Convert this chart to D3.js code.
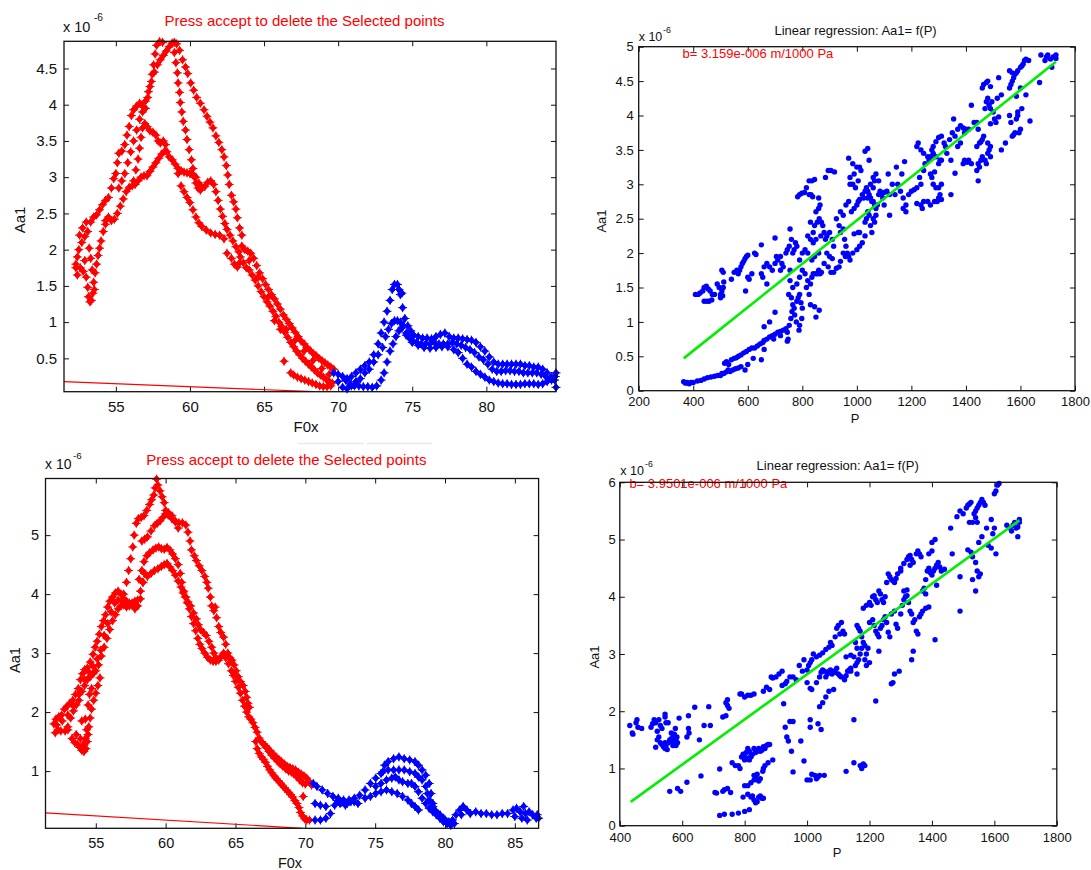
<!DOCTYPE html>
<html>
<head>
<meta charset="utf-8">
<script src="https://cdn.jsdelivr.net/npm/d3@7/dist/d3.min.js"></script>
<style>
  html, body { margin: 0; padding: 0; background: #fff; }
  svg { display: block; }
</style>
</head>
<body>
<script>
// ---------------------------------------------------------------
// Data. Left plots: F0x vs Aa1 (x 1e-6); right plots: P vs Aa1 (x 1e-6)
// ---------------------------------------------------------------

// Top-left: points still to be accepted (red strands) and kept (blue strands)
const topRiseOuter = [[52.3,1.75],[52.4,1.9],[52.5,2.0],[52.7,2.1],[52.9,2.18],[53.1,2.25],[53.3,2.38],[53.5,2.45],[53.7,2.48],[53.9,2.55],[54.1,2.62],[54.3,2.68],[54.5,2.72],[54.7,2.85],[54.85,2.98],[55.0,3.05],[55.1,3.2],[55.2,3.33],[55.4,3.36],[55.6,3.45],[55.75,3.58],[55.9,3.7],[56.05,3.85],[56.2,3.93],[56.4,3.98],[56.6,4.02],[56.8,3.98],[57.0,3.95],[57.15,4.1],[57.3,4.25],[57.45,4.42],[57.55,4.55],[57.65,4.7],[57.75,4.82],[57.95,4.87],[58.15,4.86]];
const topRiseInner = [[55.2,2.85],[55.4,2.95],[55.6,3.05],[55.8,3.2],[56.0,3.35],[56.2,3.5],[56.4,3.65],[56.6,3.8],[56.8,3.9],[57.0,4.05],[57.2,4.18],[57.4,4.32],[57.6,4.45],[57.8,4.55],[58.0,4.62],[58.2,4.68],[58.4,4.74],[58.6,4.8],[58.8,4.85],[58.95,4.86]];
const topFallOuter = [[59.1,4.84],[59.3,4.75],[59.5,4.62],[59.7,4.52],[59.85,4.43],[60.05,4.3],[60.25,4.2],[60.45,4.1],[60.7,4.02],[60.95,3.93],[61.15,3.84],[61.35,3.76],[61.55,3.68],[61.75,3.57],[61.95,3.48],[62.15,3.38],[62.3,3.28],[62.45,3.16],[62.55,3.03],[62.65,2.9],[62.8,2.75],[62.95,2.66],[63.1,2.56],[63.2,2.44],[63.35,2.3],[63.5,2.2]];
const topFallInner = [[58.95,4.72],[59.05,4.58],[59.15,4.44],[59.2,4.3],[59.3,4.17],[59.35,4.03],[59.45,3.9],[59.55,3.77],[59.7,3.65],[59.8,3.52],[59.95,3.38],[60.1,3.24],[60.2,3.12],[60.3,3.0],[60.4,2.92],[60.55,2.85],[60.7,2.82]];
const topBump = [[56.2,2.95],[56.35,3.1],[56.5,3.25],[56.6,3.4],[56.7,3.55],[56.8,3.68],[56.95,3.74],[57.1,3.7],[57.3,3.64],[57.5,3.62],[57.7,3.58],[57.85,3.5],[58.0,3.47],[58.2,3.5],[58.35,3.45],[58.45,3.35],[58.6,3.28],[58.8,3.24],[59.0,3.18],[59.2,3.12],[59.4,3.09],[59.6,3.07],[59.8,3.06],[60.0,3.05],[60.2,3.04],[60.4,3.0],[60.6,2.92],[60.8,2.86],[61.0,2.87],[61.2,2.93],[61.4,2.95],[61.6,2.9],[61.75,2.8],[61.9,2.68],[62.05,2.56],[62.2,2.46],[62.35,2.36],[62.5,2.28],[62.7,2.2],[62.9,2.12],[63.1,2.04],[63.3,1.97]];
const topLowRise = [[54.3,2.4],[54.5,2.45],[54.7,2.4],[54.9,2.42],[55.1,2.5],[55.3,2.6],[55.5,2.7],[55.7,2.8],[55.9,2.86],[56.1,2.88],[56.3,2.9],[56.5,2.95],[56.7,3.0],[56.9,3.02],[57.1,3.02],[57.3,3.08],[57.5,3.14],[57.7,3.2],[57.9,3.26],[58.1,3.32],[58.3,3.36]];
const topLoop = [[59.2,3.05],[59.4,2.88],[59.6,2.8],[59.8,2.72],[60.0,2.65],[60.2,2.55],[60.4,2.45],[60.6,2.37],[60.8,2.32],[61.1,2.27],[61.4,2.23],[61.7,2.21],[62.0,2.2],[62.3,2.15],[62.5,1.95],[62.8,1.88],[63.0,1.8],[63.2,1.76],[63.35,1.82]];
const topLobe = [[52.3,1.8],[52.4,1.65],[52.6,1.75],[52.8,1.7],[52.9,1.85],[53.0,1.62],[53.1,1.48],[53.15,1.35],[53.25,1.28],[53.35,1.3],[53.45,1.4],[53.5,1.55],[53.6,1.68],[53.7,1.8],[53.8,1.92],[53.9,2.02],[54.0,2.12],[54.15,2.25],[54.3,2.35],[53.3,1.88],[53.4,1.72],[53.55,1.45],[53.2,2.02],[52.55,2.2],[52.75,2.3],[53.0,2.38]];
const topBandUpper = [[63.5,2.05],[63.7,2.0],[63.9,1.98],[64.1,1.95],[64.3,1.88],[64.5,1.78],[64.7,1.68],[64.9,1.6],[65.1,1.52],[65.3,1.45],[65.5,1.38],[65.7,1.32],[65.9,1.25],[66.1,1.18],[66.3,1.1],[66.5,1.04],[66.7,0.98],[66.9,0.92],[67.1,0.86],[67.3,0.8],[67.5,0.74],[67.7,0.7],[67.9,0.65],[68.1,0.61],[68.3,0.57],[68.5,0.54],[68.7,0.5],[68.9,0.47],[69.1,0.44],[69.3,0.41],[69.5,0.38],[69.7,0.35]];
const topBandMiddle = [[63.4,1.9],[63.6,1.82],[63.8,1.75],[64.0,1.72],[64.2,1.65],[64.4,1.58],[64.6,1.5],[64.8,1.42],[65.0,1.35],[65.2,1.28],[65.4,1.22],[65.6,1.15],[65.8,1.08],[66.0,1.0],[66.2,0.94],[66.4,0.86],[66.6,0.79],[66.8,0.72],[67.0,0.66],[67.2,0.6],[67.4,0.55],[67.6,0.5],[67.8,0.46],[68.0,0.42],[68.2,0.38],[68.4,0.34],[68.6,0.3],[68.8,0.27],[69.0,0.24],[69.2,0.21],[69.4,0.18],[69.6,0.16]];
const topBandLower = [[66.35,0.46],[66.8,0.3],[67.0,0.27],[67.25,0.24],[67.5,0.22],[67.75,0.2],[68.0,0.18],[68.25,0.16],[68.5,0.14],[68.75,0.12],[69.0,0.11],[69.25,0.11],[69.5,0.12],[64.0,1.85],[64.6,1.62],[65.3,1.35],[65.7,1.02],[66.1,0.9],[66.5,0.9],[67.1,0.75],[67.7,0.6],[68.3,0.47],[68.9,0.36],[69.4,0.28]];
const topBlueUpper = [[69.7,0.3],[70.0,0.28],[70.3,0.25],[70.6,0.22],[70.9,0.25],[71.2,0.3],[71.5,0.35],[71.8,0.4],[72.1,0.45],[72.4,0.55],[72.7,0.7],[72.9,0.85],[73.1,1.0],[73.3,1.15],[73.5,1.3],[73.65,1.45],[73.8,1.52],[74.0,1.52],[74.1,1.45],[74.2,1.38],[74.35,1.2],[74.5,1.05],[74.7,0.95],[74.9,0.88],[75.1,0.82],[75.4,0.8],[75.7,0.78],[76.0,0.78],[76.3,0.77],[76.6,0.8],[76.9,0.83],[77.2,0.85],[77.5,0.8],[77.8,0.78],[78.1,0.78],[78.4,0.77],[78.7,0.76],[79.0,0.75],[79.3,0.72],[79.6,0.66],[79.9,0.6],[80.2,0.52],[80.5,0.45],[80.8,0.42],[81.1,0.42],[81.4,0.42],[81.7,0.42],[82.0,0.42],[82.3,0.42],[82.6,0.4],[82.9,0.4],[83.2,0.38],[83.5,0.38],[83.8,0.35],[84.1,0.3],[84.4,0.25],[84.65,0.25],[74.3,1.4]];
const topBlueMiddle = [[70.0,0.18],[70.3,0.1],[70.6,0.08],[70.9,0.12],[71.2,0.18],[71.5,0.22],[71.8,0.3],[72.1,0.35],[72.4,0.45],[72.7,0.55],[73.0,0.65],[73.2,0.8],[73.4,0.9],[73.6,0.98],[73.8,1.02],[74.0,1.02],[74.2,1.0],[74.4,0.95],[74.6,0.85],[74.8,0.78],[75.0,0.75],[75.3,0.72],[75.6,0.7],[75.9,0.7],[76.2,0.7],[76.5,0.72],[76.8,0.7],[77.1,0.7],[77.4,0.7],[77.7,0.72],[78.0,0.7],[78.3,0.68],[78.6,0.65],[78.9,0.62],[79.2,0.58],[79.5,0.52],[79.8,0.48],[80.1,0.42],[80.4,0.35],[80.7,0.32],[81.0,0.32],[81.3,0.33],[81.6,0.33],[81.9,0.32],[82.2,0.32],[82.5,0.3],[82.8,0.3],[83.1,0.3],[83.4,0.3],[83.7,0.28],[84.0,0.25],[84.3,0.22],[84.6,0.2]];
const topBlueLower = [[70.5,0.2],[70.8,0.15],[71.1,0.12],[71.4,0.12],[71.7,0.11],[72.0,0.11],[72.3,0.1],[72.6,0.12],[72.9,0.2],[73.1,0.3],[73.3,0.45],[73.5,0.6],[73.7,0.7],[73.9,0.8],[74.1,0.88],[74.3,0.92],[74.6,0.82],[75.0,0.72],[75.4,0.68],[75.8,0.65],[76.2,0.64],[76.6,0.65],[77.0,0.66],[77.4,0.66],[77.8,0.62],[78.1,0.58],[78.4,0.5],[78.7,0.42],[79.0,0.38],[79.3,0.32],[79.6,0.28],[79.9,0.24],[80.2,0.2],[80.5,0.18],[80.8,0.16],[81.1,0.15],[81.4,0.15],[81.7,0.14],[82.0,0.14],[82.3,0.14],[82.6,0.15],[82.9,0.15],[83.2,0.15],[83.5,0.14],[83.8,0.15],[84.1,0.18],[84.4,0.2],[84.7,0.1],[84.7,0.3]];
const topRedLine = [[51.5,0.18],[68.4,0.04]];

// Bottom-left
const botRiseUpper = [[52.0,1.8],[52.15,1.88],[52.35,1.92],[52.55,1.95],[52.75,2.05],[52.95,2.1],[53.15,2.15],[53.35,2.2],[53.55,2.3],[53.75,2.4],[53.9,2.55],[54.05,2.65],[54.2,2.72],[54.4,2.75],[54.6,2.85],[54.8,2.98],[54.95,3.1],[55.1,3.2],[55.25,3.32],[55.4,3.45],[55.55,3.55],[55.7,3.65],[55.85,3.78],[56.0,3.88],[56.2,3.95],[56.4,4.02],[56.6,4.05],[56.8,4.0],[57.0,3.92],[57.2,3.88],[57.4,3.85],[57.6,3.85],[57.8,3.88],[58.0,3.9],[58.2,4.05],[58.35,4.2],[58.5,4.35]];
const botRiseLower = [[52.1,1.65],[52.3,1.7],[52.5,1.68],[52.8,1.68],[53.0,1.75],[53.2,1.9],[53.4,2.02],[53.6,2.12],[53.8,2.2],[54.0,2.35],[54.2,2.45],[54.4,2.55],[54.6,2.6],[54.8,2.65],[55.0,2.7],[55.2,2.8],[55.4,2.95],[55.6,3.1],[55.8,3.25],[56.0,3.4],[56.2,3.55],[56.4,3.65],[56.6,3.75],[56.8,3.8],[57.0,3.82],[57.2,3.78],[57.4,3.8],[57.6,3.82],[57.8,3.75],[58.0,3.8],[58.2,3.92]];
const botRiseMiddle = [[52.2,1.78],[52.6,1.85],[53.0,1.95],[53.4,2.1],[53.8,2.3],[54.2,2.55],[54.5,2.68],[54.8,2.78],[55.1,2.9],[55.35,3.05],[55.6,3.3],[55.85,3.5],[56.1,3.7],[56.35,3.85],[56.6,3.9],[56.9,3.88],[57.2,3.85]];
const botLobe = [[53.0,1.7],[53.3,1.55],[53.5,1.48],[53.7,1.45],[53.85,1.4],[54.0,1.35],[54.15,1.33],[54.3,1.38],[54.4,1.5],[54.45,1.62],[54.5,1.75],[54.6,1.9],[54.7,2.05],[54.85,2.2],[55.0,2.32],[55.15,2.45],[55.3,2.58],[54.1,1.45],[54.25,1.55],[54.35,1.7],[53.9,1.55],[53.6,1.62],[54.0,1.85],[54.25,1.88],[54.45,2.12],[54.55,2.3],[54.7,2.4]];
const botPeakTop = [[57.0,4.0],[57.2,4.2],[57.35,4.4],[57.5,4.6],[57.65,4.8],[57.75,5.0],[57.9,5.2],[58.05,5.28],[58.25,5.3],[58.45,5.33],[58.65,5.42],[58.85,5.52],[59.0,5.6],[59.15,5.68],[59.25,5.8],[59.35,5.95],[59.45,5.85],[59.6,5.75],[59.75,5.65],[59.9,5.55],[60.0,5.42],[60.2,5.34],[60.45,5.28],[60.7,5.24],[60.95,5.21],[61.2,5.21],[61.45,5.17],[61.6,5.05],[61.75,4.9],[61.85,4.75],[62.05,4.65],[62.2,4.57],[62.4,4.48],[62.6,4.4],[62.8,4.3],[62.95,4.2],[63.05,4.1],[63.2,3.95],[63.3,3.8],[63.45,3.72],[63.55,3.78],[63.65,3.6],[63.8,3.45],[63.95,3.35],[64.15,3.27],[64.3,3.15],[64.45,3.0],[64.6,2.92],[64.75,2.88],[64.9,2.8],[65.05,2.7],[65.2,2.6],[65.35,2.52],[65.55,2.45],[65.7,2.35],[65.8,2.25],[65.9,2.15],[66.0,2.08]];
const botPeakSecond = [[58.3,4.9],[58.5,4.93],[58.7,4.97],[58.95,5.07],[59.2,5.16],[59.4,5.2],[59.6,5.24],[59.8,5.3],[60.0,5.36],[60.2,5.38],[60.45,5.33],[60.7,5.22],[60.9,5.12]];
const botPeakThird = [[58.1,4.25],[58.3,4.4],[58.45,4.55],[58.65,4.65],[58.85,4.7],[59.1,4.75],[59.3,4.78],[59.5,4.8],[59.7,4.77],[59.9,4.76],[60.1,4.79],[60.3,4.75],[60.5,4.68],[60.7,4.6],[60.9,4.5],[61.05,4.35],[61.15,4.2],[61.3,4.05],[61.45,3.95],[61.6,3.87],[61.8,3.8],[62.0,3.68],[62.2,3.58],[62.35,3.48],[62.5,3.4],[62.7,3.35],[62.9,3.3],[63.1,3.2],[63.3,3.1],[63.45,3.0],[63.6,2.92],[63.8,2.88],[64.0,2.95],[64.15,3.0],[64.3,2.92],[64.5,2.82],[64.7,2.7],[64.85,2.62],[65.0,2.52],[65.2,2.42],[65.35,2.32],[65.5,2.2],[65.65,2.1],[65.8,2.0],[65.95,1.92]];
const botPeakLow = [[58.4,4.2],[58.7,4.3],[58.95,4.35],[59.2,4.4],[59.45,4.43],[59.7,4.47],[59.9,4.5],[60.1,4.52],[60.3,4.46],[60.5,4.4],[60.7,4.32],[60.9,4.22],[61.1,4.12],[61.25,4.02],[61.4,3.95],[61.55,3.85],[61.7,3.75],[61.85,3.62],[62.0,3.5],[62.15,3.38],[62.3,3.25],[62.45,3.15],[62.6,3.08],[62.8,3.0],[63.0,2.93],[63.2,2.88],[63.4,2.86],[63.6,2.86]];
const botBandUpper = [[66.1,1.88],[66.25,1.82],[66.4,1.74],[66.55,1.66],[66.7,1.56],[66.85,1.5],[67.0,1.46],[67.15,1.43],[67.3,1.39],[67.5,1.34],[67.7,1.29],[67.9,1.24],[68.1,1.2],[68.3,1.16],[68.5,1.12],[68.7,1.08],[68.9,1.06],[69.1,1.04],[69.3,1.02],[69.5,0.98],[69.7,0.95],[69.9,0.92],[70.1,0.88],[70.3,0.82],[70.45,0.76]];
const botBandMiddle = [[67.2,1.4],[67.4,1.33],[67.6,1.27],[67.8,1.22],[68.0,1.17],[68.2,1.12],[68.4,1.08],[68.6,1.04],[68.8,1.0],[69.0,0.98],[69.2,0.95],[69.4,0.9],[69.6,0.85],[69.8,0.8],[70.0,0.78]];
const botBandLower = [[66.45,1.5],[66.55,1.38],[66.7,1.3],[66.85,1.24],[67.0,1.2],[67.15,1.15],[67.3,1.08],[67.45,1.02],[67.6,0.97],[67.75,0.92],[67.9,0.88],[68.05,0.84],[68.2,0.8],[68.35,0.76],[68.5,0.72],[68.65,0.68],[68.8,0.64],[68.95,0.6],[69.1,0.56],[69.25,0.5],[69.4,0.45],[69.55,0.38],[69.65,0.3],[69.8,0.24],[69.95,0.19],[70.1,0.17],[70.3,0.17],[69.85,0.57]];
const botBlueTop = [[70.57,0.79],[70.83,0.74],[71.21,0.68],[71.6,0.62],[71.98,0.57],[72.36,0.54],[72.74,0.51],[73.13,0.51],[73.51,0.54],[73.89,0.59],[74.28,0.68],[74.66,0.79],[75.04,0.88],[75.42,0.96],[75.68,1.1],[75.93,1.16],[76.32,1.21],[76.7,1.24],[77.08,1.21],[77.47,1.19],[77.85,1.16],[78.1,1.1],[78.36,1.02],[78.62,0.93],[78.87,0.79],[79.0,0.62],[79.13,0.45],[79.25,0.34],[79.51,0.26],[79.77,0.2],[80.03,0.17],[80.28,0.14],[80.41,0.11]];
const botBlueSecond = [[75.55,0.99],[75.93,1.02],[76.32,1.02],[76.7,1.02],[77.08,1.02],[77.47,0.99],[77.85,0.96],[78.1,0.9],[78.36,0.85],[78.62,0.74],[78.74,0.62],[78.87,0.51],[79.13,0.4],[79.38,0.31],[79.64,0.26],[79.89,0.2]];
const botBlueThird = [[75.04,0.74],[75.42,0.79],[75.81,0.85],[76.19,0.88],[76.45,0.9],[76.7,0.85],[76.96,0.82],[77.34,0.79],[77.6,0.79],[77.85,0.74],[78.1,0.65],[78.36,0.54],[78.62,0.45],[78.87,0.37],[79.13,0.31],[79.38,0.26],[79.64,0.2],[79.89,0.14],[80.15,0.11],[80.41,0.08]];
const botBlueFourth = [[74.66,0.57],[75.04,0.62],[75.42,0.65],[75.81,0.68],[76.19,0.65],[76.58,0.62],[76.96,0.57],[77.34,0.51],[77.6,0.45],[77.85,0.4],[78.1,0.34]];
const botBlueLow = [[70.7,0.45],[71.08,0.42],[71.47,0.4],[70.7,0.17],[71.08,0.17],[71.47,0.2],[71.8,0.28],[72.1,0.42],[72.49,0.45],[72.87,0.42],[73.26,0.48],[73.77,0.45],[74.28,0.54],[72.3,0.5],[72.6,0.47],[73.0,0.45],[73.5,0.48]];
const botBlueTail = [[80.54,0.17],[80.79,0.26],[81.05,0.34],[81.3,0.4],[81.56,0.34],[81.81,0.28],[82.2,0.31],[82.58,0.28],[82.96,0.28],[83.34,0.26],[83.72,0.26],[84.1,0.28],[84.48,0.28],[84.87,0.34],[85.12,0.37],[85.38,0.31],[85.5,0.2],[85.76,0.28],[86.02,0.31],[86.27,0.26],[86.53,0.2],[86.7,0.2],[80.67,0.11],[81.17,0.26],[85.0,0.23],[85.63,0.4],[85.89,0.17],[86.6,0.26]];
const botRedLine = [[51.4,0.29],[69.8,0.03]];

// Top-right regression cloud (P, Aa1)
const regPointsTop = [[365,0.13],[372,0.11],[378,0.12],[385,0.1],[392,0.12],[400,0.12],[415,0.14],[428,0.15],[440,0.17],[452,0.19],[465,0.2],[478,0.21],[490,0.22],[500,0.22],[505,0.25],[512,0.25],[520,0.27],[528,0.3],[535,0.28],[545,0.3],[555,0.32],[565,0.33],[575,0.35],[590,0.3],[600,0.38],
[515,0.4],[522,0.42],[530,0.38],[540,0.45],[550,0.47],[558,0.48],[566,0.5],[575,0.52],[585,0.55],[595,0.57],[605,0.6],[615,0.62],[625,0.62],[635,0.65],[645,0.68],[655,0.7],[660,0.73],[670,0.75],[680,0.78],[690,0.8],[700,0.82],[710,0.85],[720,0.86],[730,0.88],[740,0.9],[650,0.45],[620,0.47],[660,0.6],[695,0.75],[720,0.8],[745,0.72],[660,0.93],[680,1.0],[700,1.14],[745,0.85],
[748,0.75],[752,0.95],[758,1.05],[762,1.15],[765,1.25],[770,1.2],[772,1.1],[778,1.0],[780,1.3],[785,1.35],[790,1.4],[795,1.28],[800,1.2],[798,1.05],[790,0.95],[788,0.88],[760,1.35],[750,1.4],[755,1.6],[765,1.5],[780,1.55],[790,1.65],[800,1.75],[810,1.7],[815,1.5],[820,1.6],[825,1.4],[830,1.55],[835,1.65],[840,1.7],[850,1.7],[860,1.75],[870,1.72],[830,1.25],[845,1.22],[850,1.07],[862,1.17],[800,2.0],[810,2.05],[820,2.0],[835,1.9],[845,1.95],[860,2.0],[790,1.9],[780,2.1],[770,2.05],[765,2.0],[760,2.2],[775,2.15],
[408,1.4],[418,1.4],[425,1.42],[435,1.45],[440,1.5],[448,1.52],[455,1.48],[462,1.45],[450,1.3],[458,1.3],[468,1.32],[470,1.4],[478,1.4],[488,1.55],[495,1.5],[500,1.4],[505,1.45],[508,1.38],[510,1.5],[512,1.58],[510,1.72],[505,1.75],[500,1.35],[440,1.3],
[540,1.62],[550,1.72],[560,1.75],[565,1.7],[570,1.75],[575,1.8],[580,1.85],[585,1.88],[590,1.92],[595,1.95],[600,1.97],[592,1.45],[600,1.65],[605,1.62],[615,1.7],[625,2.0],[630,1.98],[650,1.7],[655,1.65],[660,1.8],[670,1.85],[680,1.8],[690,1.75],[700,1.85],[705,1.95],[710,1.9],[720,1.95],[725,1.85],[730,1.8],[700,2.22],[740,2.0],[745,2.05],[752,2.1],[755,2.35],[755,1.75],[720,1.75],[670,1.55],[650,2.12],
[783,2.82],[790,2.85],[798,2.87],[808,2.88],[815,2.95],[825,2.85],[832,2.85],[838,2.82],[825,3.05],[835,3.05],[845,3.07],[860,2.8],[865,2.7],[885,3.1],[895,3.2],[905,3.2],[918,3.18],
[820,2.25],[830,2.2],[840,2.3],[845,2.4],[855,2.45],[862,2.5],[870,2.45],[875,2.4],[880,2.3],[885,2.2],[890,2.25],[900,2.3],[910,2.2],[915,2.1],[925,2.5],[935,2.4],[940,2.3],[950,2.35],[955,2.2],[960,2.1],[965,2.0],[970,1.95],[830,2.45],[850,2.6],[860,2.65],[868,2.25],[850,2.2],[840,2.15],[855,1.7],[865,1.7],[880,1.85],[895,1.8],[905,1.72],[915,1.72],[925,1.78],[935,1.8],[940,1.88],[950,2.0],[958,1.95],[900,1.95],[890,2.0],[910,1.92],[975,1.9],[985,2.0],[1000,2.05],[1010,2.1],[1020,2.15],[1030,2.25],[990,2.28],[1005,2.3],[1010,2.3],
[940,2.6],[950,2.55],[960,2.7],[970,2.75],[980,2.6],[990,2.65],[1000,2.7],[1005,2.75],[1010,2.78],[1020,2.85],[1025,2.8],[1030,2.9],[1040,2.9],[1045,2.85],[1050,2.8],[1055,2.75],[1060,2.75],[1065,2.7],[1070,2.65],[1075,2.7],[1080,2.85],[1085,2.9],[1090,2.85],[1095,2.8],[1100,2.88],[1110,2.9],[1120,2.85],[1030,2.45],[1035,2.5],[1040,2.6],[1050,2.4],[1060,2.5],[1055,2.3],[1065,2.45],[1045,2.55],[1070,2.55],[975,3.0],[985,3.0],[995,2.95],[1005,3.05],[975,3.1],[990,3.15],[1000,3.25],[1010,3.25],[1015,3.2],[985,3.3],[970,3.38],[1030,3.48],[1040,3.52],[1045,3.35],[1050,3.0],[1060,3.1],[1065,3.05],[1070,3.15],[1060,2.95],[1080,3.05],[1035,2.95],[1040,2.8],[1115,3.15],[1130,3.0],[1120,2.55],[1100,2.7],
[1145,3.25],[1165,3.15],[1175,3.33],[1150,3.0],[1140,2.85],[1160,2.9],[1170,2.8],[1180,2.7],[1190,2.85],[1200,2.9],[1210,2.92],[1220,2.95],[1230,3.1],[1235,3.0],[1245,3.2],[1250,3.3],[1265,3.35],[1270,3.4],[1275,3.5],[1280,3.45],[1290,3.4],[1300,3.3],[1305,3.35],[1310,3.35],[1270,3.15],[1275,3.1],[1285,3.18],[1260,2.75],[1270,2.7],[1285,2.75],[1295,2.75],[1300,2.8],[1305,2.85],[1310,2.78],[1300,2.95],[1310,3.0],[1240,2.65],[1245,2.75],[1235,2.7],[1220,2.72],[1290,2.95],[1280,3.0],[1345,2.85],[1170,2.65],[1180,2.6],
[1220,3.55],[1225,3.6],[1235,3.5],[1245,3.45],[1260,3.4],[1280,3.55],[1290,3.62],[1300,3.68],[1310,3.7],[1320,3.6],[1325,3.55],[1340,3.65],[1350,3.75],[1355,3.95],[1360,3.7],[1370,3.8],[1380,3.85],[1390,3.82],[1395,3.75],[1400,3.8],[1410,3.8],[1380,3.6],[1370,3.55],[1360,3.16],[1345,3.35],[1330,3.45],[1395,3.35],[1405,3.32],[1410,3.35],[1420,3.3],[1390,3.3],
[1420,4.15],[1430,3.9],[1440,3.9],[1445,3.8],[1450,3.6],[1455,3.62],[1460,3.65],[1465,3.7],[1440,3.55],[1445,3.3],[1450,3.25],[1440,3.2],[1445,3.05],[1455,3.35],[1460,3.4],[1470,3.35],[1475,3.3],[1480,3.45],[1485,3.5],[1490,3.4],[1480,3.6],[1490,3.55],[1460,4.4],[1465,4.45],[1475,4.48],[1480,4.5],[1490,4.42],[1470,4.1],[1475,4.2],[1480,4.25],[1485,4.15],[1490,4.1],[1495,4.2],[1500,4.05],[1505,3.95],[1490,3.88],[1510,3.9],[1515,4.25],[1520,4.55],[1530,4.3],[1520,3.98],[1530,3.5],
[1545,3.6],[1560,4.0],[1565,3.9],[1570,3.7],[1575,3.72],[1580,3.75],[1585,3.95],[1590,4.05],[1595,3.75],[1600,3.8],[1560,4.4],[1565,4.45],[1570,4.5],[1575,4.55],[1580,4.6],[1585,4.62],[1590,4.65],[1600,4.7],[1605,4.72],[1610,4.75],[1615,4.8],[1620,4.82],[1630,4.8],[1560,4.65],[1570,4.62],[1585,4.28],[1620,4.3],[1635,3.92],[1670,4.48],[1675,4.88],[1690,4.8],[1695,4.85],[1700,4.88],[1710,4.82],[1715,4.7],[1720,4.85],[1730,4.88],[1730,4.83],[1600,4.4],[1590,4.0],[1605,4.1]];

// Bottom-right regression cloud (P, Aa1)
const regPointsBottom = [[432,1.75],[440,1.62],[442,1.6],[452,1.8],[455,1.85],[458,1.72],[470,1.7],[500,1.72],[505,1.78],[510,1.85],[515,1.8],[520,1.65],[525,1.85],[530,1.75],[535,1.7],[545,1.9],[545,1.95],[548,1.8],[555,1.8],[515,1.37],[520,1.5],[525,1.55],[530,1.45],[535,1.42],[540,1.38],[545,1.35],[548,1.4],[552,1.33],[555,1.45],[560,1.5],[565,1.52],[570,1.55],[572,1.45],[575,1.6],[578,1.7],[580,1.5],[583,1.55],[585,1.45],[570,1.4],[563,1.48],[590,1.88],[565,1.62],[580,1.4],[545,1.45],
[615,1.55],[620,1.7],[622,1.62],[620,1.92],[640,2.07],[655,1.5],[670,1.75],[685,2.08],[690,1.75],[730,1.9],[740,2.15],[745,2.2],[740,1.92],[750,2.05],[745,2.1],
[560,0.6],[585,0.65],[595,0.6],[615,0.76],[660,0.87],[705,0.58],[710,0.57],[720,0.99],[730,0.6],[735,0.63],[745,0.65],[755,0.58],[760,1.1],[770,1.05],[780,1.05],[785,1.0],[790,1.2],[795,1.25],[800,1.2],[805,1.28],[810,1.35],[815,1.3],[820,1.22],[825,1.25],[830,1.35],[835,1.28],[840,1.3],[845,1.35],[850,1.3],[855,1.32],[860,1.38],[865,1.35],[870,1.4],[875,1.42],[880,1.42],[810,1.18],[815,1.15],[820,1.2],[800,1.15],[830,0.8],[835,0.85],[840,0.9],[830,0.88],[845,0.78],[850,0.82],[860,1.0],[858,0.95],[865,1.05],[875,1.1],[890,1.15],
[720,0.18],[735,0.2],[760,0.2],[780,0.22],[800,0.25],[815,0.28],[795,0.5],[810,0.55],[820,0.5],[825,0.52],[830,0.45],[835,0.4],[840,0.42],[845,0.5],[850,0.52],[855,0.48],[860,0.48],[810,0.7],[820,0.75],[800,0.7],
[785,2.3],[790,2.3],[800,2.25],[810,2.28],[820,2.28],[830,2.3],[860,2.35],[870,2.42],[880,2.38],[885,2.6],[890,2.58],[900,2.6],[910,2.65],[920,2.7],[920,2.45],[930,2.48],[935,2.52],[945,2.6],[955,2.6],[965,2.55],[975,2.8],[985,2.7],[990,2.9],[1000,2.72],[1005,2.8],[1010,2.85],[1015,2.9],[1020,3.0],[1030,2.95],[1040,2.98],[1050,3.02],[1060,3.08],[1070,3.12],[1075,3.2],[1080,3.15],[1090,3.3],[1095,3.45],[1100,3.5],[1110,3.55],[1105,3.35],[1115,3.4],[1120,3.35],
[1000,2.5],[1010,2.4],[1015,2.38],[1030,2.5],[1040,2.6],[1045,2.68],[1050,2.72],[1055,2.7],[1060,2.6],[1065,2.65],[1070,2.7],[1075,2.72],[1080,2.65],[1085,2.7],[1090,2.68],[1095,2.75],[1100,2.65],[1105,2.62],[1110,2.6],[1120,2.55],[1125,2.62],[1130,2.7],[1135,2.72],[1140,2.75],[1070,2.35],[1085,2.38],[1060,2.25],[1050,2.15],[1040,2.08],
[925,2.13],[930,1.72],[935,1.55],[940,1.48],[945,1.82],[955,1.82],[950,1.3],[955,0.94],[980,1.48],[990,1.13],[1000,0.8],[1010,0.8],[1015,0.9],[1025,0.88],[1030,0.82],[1035,0.85],[1040,0.88],[1055,0.88],[1010,1.72],[1010,1.85],[1035,1.78],[1045,1.68],[1125,0.95],[1150,1.1],[1170,1.05],[1175,1.0],[1180,1.08],[1185,1.05],[1150,1.85],[1220,2.18],
[1125,2.95],[1140,2.98],[1150,2.95],[1155,2.8],[1160,2.85],[1165,2.9],[1170,3.0],[1175,3.1],[1160,3.1],[1155,3.2],[1160,3.5],[1165,3.45],[1170,3.4],[1175,3.3],[1180,3.2],[1185,3.15],[1190,3.0],[1185,2.9],[1190,2.8],[1200,2.85],[1195,3.1],[1160,2.65],[1140,2.7],
[1180,3.8],[1190,3.85],[1200,3.9],[1205,3.85],[1210,4.0],[1215,4.02],[1220,3.95],[1225,3.9],[1230,4.1],[1235,4.05],[1240,3.95],[1245,3.9],[1250,4.0],[1255,4.25],[1260,4.4],[1265,4.35],[1270,4.3],[1275,4.28],[1280,4.25],[1285,4.32],[1290,4.4],[1300,4.5],[1310,4.58],[1320,4.65],[1325,4.7],[1330,4.72],[1335,4.65],[1340,4.6],[1350,4.75],[1355,4.8],[1360,4.75],[1365,4.7],[1330,4.55],[1300,4.45],
[1200,3.55],[1210,3.6],[1215,3.5],[1220,3.4],[1225,3.35],[1230,3.3],[1235,3.45],[1240,3.5],[1245,3.6],[1250,3.65],[1255,3.55],[1260,3.38],[1265,3.3],[1270,3.7],[1280,3.75],[1285,3.52],[1290,3.45],[1300,3.7],[1305,3.85],[1310,3.95],[1315,4.0],[1320,4.02],[1325,3.9],[1330,3.75],[1335,3.7],[1340,3.55],[1345,3.6],[1350,3.4],[1355,3.35],[1360,3.65],[1365,3.7],[1370,3.75],[1380,3.8],[1340,3.05],[1335,2.9],[1270,2.48],[1275,2.5],[1280,2.65],[1295,2.7],[1230,3.05],[1310,4.1],[1320,4.12],
[1370,4.1],[1375,4.15],[1380,4.3],[1385,4.45],[1390,4.5],[1395,4.42],[1400,4.38],[1405,4.45],[1410,4.5],[1415,4.55],[1420,4.6],[1425,4.52],[1430,4.45],[1380,4.05],[1390,4.75],[1400,4.8],[1410,5.0],[1400,4.95],[1415,4.2],[1410,3.25],[1390,3.82],[1440,4.48],
[1460,5.2],[1465,4.75],[1480,5.4],[1490,5.5],[1490,4.35],[1490,3.75],[1500,5.45],[1510,5.55],[1515,5.6],[1520,5.62],[1525,5.65],[1515,4.82],[1525,4.78],[1530,4.7],[1530,5.3],[1520,5.3],[1535,5.45],[1540,5.5],[1545,5.55],[1550,5.6],[1555,5.65],[1560,5.7],[1565,5.65],[1570,5.6],[1540,5.38],[1545,5.3],[1530,4.3],[1540,4.6],[1545,4.45],[1540,4.1],[1550,4.35],[1555,4.4],[1550,4.95],[1560,5.05],[1575,5.2],[1580,4.9],[1590,5.35],[1595,5.1],[1600,5.2],[1600,5.8],[1605,5.85],[1610,5.95],[1615,5.98],[1605,4.75],[1640,5.25],[1650,5.2],[1655,5.15],[1660,5.25],[1665,5.3],[1670,5.2],[1675,5.22],[1680,5.3],[1680,5.35],[1675,5.05],[1590,4.85]];

// Fitted lines: Aa1 = a + b * P/1000 (b in 1e-6 per 1000 Pa)
const fitTop = { b: 3.159, a: -0.683, pRange: [365, 1730] };
const fitBottom = { b: 3.9501, a: -1.302, pRange: [435, 1680] };

// Tick values
const topLeftXTicks = [55, 60, 65, 70, 75, 80];
const topLeftYTicks = [0.5, 1, 1.5, 2, 2.5, 3, 3.5, 4, 4.5];
const botLeftXTicks = [55, 60, 65, 70, 75, 80, 85];
const botLeftYTicks = [1, 2, 3, 4, 5];
const topRightXTicks = [200, 400, 600, 800, 1000, 1200, 1400, 1600, 1800];
const topRightYTicks = [0, 0.5, 1, 1.5, 2, 2.5, 3, 3.5, 4, 4.5, 5];
const botRightXTicks = [400, 600, 800, 1000, 1200, 1400, 1600, 1800];
const botRightYTicks = [0, 1, 2, 3, 4, 5, 6];

// ---------------------------------------------------------------
// Drawing
// ---------------------------------------------------------------
const FONT = "'Liberation Sans', Arial, Helvetica, sans-serif";
const RED = "#ff0000", BLUE = "#0000ff", GREEN = "#00ee00", INK = "#111";

const svg = d3.select("body").append("svg")
  .attr("width", 1091).attr("height", 870)
  .style("font-family", FONT);

svg.append("rect").attr("width", 1091).attr("height", 870).attr("fill", "#fff");

// faint window edge between the two left plots
svg.append("path").attr("d", "M298,443.5H364M367,443.5H432")
  .attr("stroke", "#e9e9e9").attr("stroke-width", 1.5);

let clipId = 0;

function makeAxes(c) {
  const g = svg.append("g");
  const x = d3.scaleLinear().domain(c.xDomain).range([c.left, c.right]);
  const y = d3.scaleLinear().domain(c.yDomain).range([c.bottom, c.top]);
  const tick = 5;
  const style = sel => {
    sel.select(".domain").remove();
    sel.attr("font-family", FONT).attr("font-size", c.fs);
    sel.selectAll(".tick line").attr("stroke", INK).attr("stroke-width", 1);
    sel.selectAll(".tick text").attr("fill", INK);
  };
  g.append("g").attr("transform", `translate(0,${c.bottom})`)
    .call(d3.axisBottom(x).tickValues(c.xTicks).tickSizeInner(-tick).tickSizeOuter(0)
      .tickPadding(c.xPad).tickFormat(d => String(d))).call(style);
  g.append("g").attr("transform", `translate(0,${c.top})`)
    .call(d3.axisTop(x).tickValues(c.xTicks).tickSizeInner(-tick).tickSizeOuter(0).tickFormat("")).call(style);
  g.append("g").attr("transform", `translate(${c.left},0)`)
    .call(d3.axisLeft(y).tickValues(c.yTicks).tickSizeInner(-tick).tickSizeOuter(0)
      .tickPadding(c.yPad).tickFormat(d => String(d))).call(style);
  g.append("g").attr("transform", `translate(${c.right},0)`)
    .call(d3.axisRight(y).tickValues(c.yTicks).tickSizeInner(-tick).tickSizeOuter(0).tickFormat("")).call(style);

  const id = "clip" + (clipId++);
  svg.append("clipPath").attr("id", id).append("rect")
    .attr("x", c.left).attr("y", c.top).attr("width", c.right - c.left).attr("height", c.bottom - c.top);

  // exponent note, axis names, title
  svg.append("text").attr("x", c.exp[0]).attr("y", c.exp[1]).attr("font-size", c.expFs)
    .attr("fill", INK).text("x 10");
  svg.append("text").attr("x", c.exp[2]).attr("y", c.exp[3]).attr("font-size", c.expFs * 0.7)
    .attr("fill", INK).text("-6");
  svg.append("text").attr("transform", `translate(${c.yLab[0]},${c.yLab[1]}) rotate(-90)`)
    .attr("text-anchor", "middle").attr("dominant-baseline", "central")
    .attr("font-size", c.labFs).attr("fill", INK).text("Aa1");
  svg.append("text").attr("x", c.xLab[0]).attr("y", c.xLab[1]).attr("text-anchor", "middle")
    .attr("font-size", c.labFs).attr("fill", INK).text(c.xName);
  svg.append("text").attr("x", c.titlePos[0]).attr("y", c.titlePos[1]).attr("text-anchor", "middle")
    .attr("font-size", c.titleFs).attr("fill", c.titleColor).text(c.title);

  return { x, y, g, clip: `url(#${id})`, c };
}

function drawFrame(ax) {
  const c = ax.c;
  svg.append("rect").attr("x", c.left).attr("y", c.top)
    .attr("width", c.right - c.left).attr("height", c.bottom - c.top)
    .attr("fill", "none").attr("stroke", INK).attr("stroke-width", 1.3);
}

// star-like diamond marker used by the selection plots
const starMarker = "M0,-3.6L3.1,0L0,3.6L-3.1,0Z M-4.5,0H4.5 M0,-4.5V4.5";

function drawStars(ax, pts, color) {
  svg.append("g").selectAll("path").data(pts).join("path")
    .attr("transform", d => `translate(${ax.x(d[0])},${ax.y(d[1])})`)
    .attr("d", starMarker)
    .attr("fill", color).attr("stroke", color).attr("stroke-width", 1);
}

function drawDots(ax, pts) {
  svg.append("g").selectAll("circle").data(pts).join("circle")
    .attr("cx", d => ax.x(d[0])).attr("cy", d => ax.y(d[1])).attr("r", 2.7)
    .attr("fill", BLUE);
}

function drawLine(ax, pts, color, width) {
  svg.append("path").datum(pts)
    .attr("d", d3.line().x(d => ax.x(d[0])).y(d => ax.y(d[1])))
    .attr("clip-path", ax.clip)
    .attr("fill", "none").attr("stroke", color).attr("stroke-width", width);
}

function drawFit(ax, fit) {
  const pts = fit.pRange.map(p => [p, fit.a + fit.b * p / 1000]);
  drawLine(ax, pts, GREEN, 2.6);
}

// ---- top-left: selection plot ----
const axTL = makeAxes({
  left: 64, right: 556, top: 41.3, bottom: 391.7,
  xDomain: [51.5, 84.7], yDomain: [0.04, 4.875],
  xTicks: topLeftXTicks, yTicks: topLeftYTicks,
  fs: 15, xPad: 9.5, yPad: 7,
  exp: [63, 31.5, 94, 20.5], expFs: 14.5,
  yLab: [19, 220], xLab: [306, 432], xName: "F0x", labFs: 15,
  title: "Press accept to delete the Selected points", titleColor: RED,
  titlePos: [304.5, 25.5], titleFs: 15
});
drawLine(axTL, topRedLine, RED, 1.2);
drawStars(axTL, [].concat(topLobe, topRiseOuter, topRiseInner, topLowRise, topBump, topFallOuter,
  topFallInner, topLoop, topBandUpper, topBandMiddle, topBandLower), RED);
drawStars(axTL, [].concat(topBlueUpper, topBlueMiddle, topBlueLower), BLUE);
drawFrame(axTL);

// ---- bottom-left: selection plot ----
const axBL = makeAxes({
  left: 45.5, right: 538.6, top: 478.5, bottom: 828.3,
  xDomain: [51.4, 86.7], yDomain: [0.03, 5.96],
  xTicks: botLeftXTicks, yTicks: botLeftYTicks,
  fs: 14.5, xPad: 9.4, yPad: 6.5,
  exp: [45, 469, 73, 459], expFs: 14,
  yLab: [15, 660], xLab: [290, 868], xName: "F0x", labFs: 14.5,
  title: "Press accept to delete the Selected points", titleColor: RED,
  titlePos: [286.3, 464.5], titleFs: 15
});
drawLine(axBL, botRedLine, RED, 1.2);
drawStars(axBL, [].concat(botRiseLower, botRiseMiddle, botRiseUpper, botLobe, botPeakTop, botPeakSecond,
  botPeakThird, botPeakLow, botBandUpper, botBandMiddle, botBandLower), RED);
drawStars(axBL, [].concat(botBlueLow, botBlueTop, botBlueSecond, botBlueThird, botBlueFourth, botBlueTail), BLUE);
drawFrame(axBL);

// ---- top-right: regression ----
const axTR = makeAxes({
  left: 638.7, right: 1075, top: 46.7, bottom: 390.7,
  xDomain: [200, 1800], yDomain: [0, 5],
  xTicks: topRightXTicks, yTicks: topRightYTicks,
  fs: 13, xPad: 6.5, yPad: 5,
  exp: [638.7, 40.7, 663, 33], expFs: 12.5,
  yLab: [601, 221], xLab: [855, 422.5], xName: "P", labFs: 13,
  title: "Linear regression: Aa1= f(P)", titleColor: INK,
  titlePos: [855.6, 35], titleFs: 13
});
drawDots(axTR, regPointsTop);
drawFit(axTR, fitTop);
svg.append("text").attr("x", 682.6).attr("y", 58).attr("font-size", 13).attr("fill", RED)
  .text(`b= ${fitTop.b}e-006 m/1000 Pa`);
drawFrame(axTR);

// ---- bottom-right: regression ----
const axBR = makeAxes({
  left: 619.8, right: 1056.8, top: 482.3, bottom: 825.7,
  xDomain: [400, 1800], yDomain: [0, 6],
  xTicks: botRightXTicks, yTicks: botRightYTicks,
  fs: 13, xPad: 6.8, yPad: 4,
  exp: [620.3, 475, 645, 467], expFs: 12.5,
  yLab: [594, 657], xLab: [837, 857], xName: "P", labFs: 13,
  title: "Linear regression: Aa1= f(P)", titleColor: INK,
  titlePos: [837.7, 470], titleFs: 13
});
drawDots(axBR, regPointsBottom);
drawFit(axBR, fitBottom);
svg.append("text").attr("x", 629.4).attr("y", 488).attr("font-size", 13).attr("fill", RED)
  .text(`b= ${fitBottom.b}e-006 m/1000 Pa`);
drawFrame(axBR);
</script>
</body>
</html>
